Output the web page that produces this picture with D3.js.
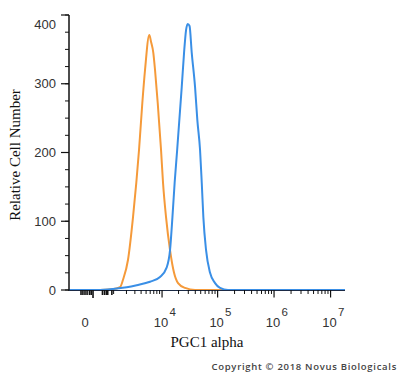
<!DOCTYPE html>
<html>
<head>
<meta charset="utf-8">
<script src="https://cdn.jsdelivr.net/npm/d3@7"></script>
<style>
  body { margin: 0; background: #fff; }
  svg { display: block; }
</style>
</head>
<body>
<svg id="chart" width="400" height="378"></svg>
<script>

// Isotype control (orange): [fluorescence, count]
const controlSeries = [
  [-416, 0], [381, 0], [908, 1], [1433, 4], [1678, 15], [2160, 44], [2750, 106],
  [3640, 204], [4226, 272], [4770, 320], [5770, 371], [6215, 361], [6870, 345],
  [7400, 320], [8310, 272], [9570, 204], [10420, 156], [11840, 106], [14010, 58],
  [16580, 25], [19600, 10], [26200, 3], [39640, 0], [1.8e7, 0]
];

// PGC1 alpha stained (blue)
const stainedSeries = [
  [-416, 0], [300, 0], [965, 1.5], [2025, 4], [3270, 7], [5950, 12], [9170, 19],
  [12190, 33], [14010, 58], [15500, 106], [17000, 156], [18900, 204], [22840, 295],
  [25150, 345], [27330, 378], [29300, 387], [31570, 384], [34570, 345], [39640, 295],
  [43540, 247], [48650, 204], [52200, 156], [55740, 106], [62290, 58], [73390, 25],
  [90060, 10], [110500, 3], [153000, 0], [1.8e7, 0]
];

const yTicks = [0, 100, 200, 300, 400];
const yMinorTicks = d3.range(0, 401, 25);
const xMajorTicks = [1e4, 1e5, 1e6, 1e7];
const xLinearTicks = [-80, -40, 0, 40, 90, 130, 175, 470, 550, 630, 690, 900];
const xMinorTicks = [3, 4, 5, 6].flatMap(e => d3.range(1, 10).map(k => k * Math.pow(10, e)))
  .filter(v => !xMajorTicks.includes(v) && v < 1.8e7);

const colors = { control: "#f59a3a", stained: "#3a8fe6" };

const svg = d3.select("#chart");

const x = d3.scaleSymlog()
  .constant(453)
  .domain([-416, 1.8e7])
  .range([69, 345]);

const y = d3.scaleLinear()
  .domain([0, 400])
  .range([290, 15]);

const line = d3.line()
  .x(d => x(d[0]))
  .y(d => y(d[1]))
  .curve(d3.curveMonotoneX);

// Curves
svg.append("path")
  .datum(controlSeries)
  .attr("fill", "none")
  .attr("stroke", colors.control)
  .attr("stroke-width", 2)
  .attr("d", line);

svg.append("path")
  .datum(stainedSeries)
  .attr("fill", "none")
  .attr("stroke", colors.stained)
  .attr("stroke-width", 2)
  .attr("d", line);

// Y axis
const yAxis = svg.append("g");

yAxis.append("line")
  .attr("x1", 69).attr("x2", 69)
  .attr("y1", y(400)).attr("y2", y(0) + 1)
  .attr("stroke", "#111")
  .attr("stroke-width", 1.5);

yAxis.selectAll(".ymin")
  .data(yMinorTicks)
  .join("line")
    .attr("x1", 65).attr("x2", 69)
    .attr("y1", d => y(d)).attr("y2", d => y(d))
    .attr("stroke", "#111");

yAxis.selectAll(".ymaj")
  .data(yTicks)
  .join("line")
    .attr("x1", 61).attr("x2", 69)
    .attr("y1", d => y(d)).attr("y2", d => y(d))
    .attr("stroke", "#111")
    .attr("stroke-width", 1.2);

yAxis.selectAll("text")
  .data(yTicks)
  .join("text")
    .attr("x", 56)
    .attr("y", d => y(d) + (d === 400 ? 9 : 0))
    .attr("dy", "0.35em")
    .attr("text-anchor", "end")
    .attr("font-family", "Liberation Sans, Arial, sans-serif")
    .attr("font-size", 13)
    .attr("fill", "#333")
    .text(d => d);

// X axis
const xAxis = svg.append("g");

xAxis.append("line")
  .attr("x1", 69).attr("x2", 345)
  .attr("y1", 290.5).attr("y2", 290.5)
  .attr("stroke", "#1b2a45")
  .attr("stroke-width", 1.2);

xAxis.selectAll(".xlin")
  .data(xLinearTicks)
  .join("line")
    .attr("x1", d => x(d)).attr("x2", d => x(d))
    .attr("y1", 290).attr("y2", d => d === 175 ? 298 : 295)
    .attr("stroke", "#111")
    .attr("stroke-width", 1.6);

xAxis.selectAll(".xmin")
  .data(xMinorTicks)
  .join("line")
    .attr("x1", d => x(d)).attr("x2", d => x(d))
    .attr("y1", 290).attr("y2", 294)
    .attr("stroke", "#111");

xAxis.selectAll(".xmaj")
  .data(xMajorTicks)
  .join("line")
    .attr("x1", d => x(d)).attr("x2", d => x(d))
    .attr("y1", 290).attr("y2", 297.5)
    .attr("stroke", "#111")
    .attr("stroke-width", 1.2);

xAxis.append("text")
  .attr("x", x(0))
  .attr("y", 327)
  .attr("text-anchor", "middle")
  .attr("font-family", "Liberation Sans, Arial, sans-serif")
  .attr("font-size", 13)
  .attr("fill", "#333")
  .text("0");

const majorLabels = xAxis.selectAll(".xlab")
  .data(xMajorTicks)
  .join("g");

majorLabels.append("text")
  .attr("x", d => x(d) - 1)
  .attr("y", 327)
  .attr("text-anchor", "middle")
  .attr("font-family", "Liberation Sans, Arial, sans-serif")
  .attr("font-size", 13)
  .attr("fill", "#333")
  .text("10");

majorLabels.append("text")
  .attr("x", d => x(d) + 7.5)
  .attr("y", 316)
  .attr("font-family", "Liberation Sans, Arial, sans-serif")
  .attr("font-size", 11.5)
  .attr("fill", "#333")
  .text(d => Math.round(Math.log10(d)));

// Titles
svg.append("text")
  .attr("transform", "translate(20,155) rotate(-90)")
  .attr("text-anchor", "middle")
  .attr("font-family", "Liberation Serif, Times New Roman, serif")
  .attr("font-size", 15)
  .attr("fill", "#111")
  .text("Relative Cell Number");

svg.append("text")
  .attr("x", 207)
  .attr("y", 347)
  .attr("text-anchor", "middle")
  .attr("font-family", "Liberation Serif, Times New Roman, serif")
  .attr("font-size", 15)
  .attr("fill", "#111")
  .text("PGC1 alpha");

svg.append("text")
  .attr("x", 397)
  .attr("y", 370)
  .attr("text-anchor", "end")
  .attr("font-family", "Open Sans, sans-serif")
  .attr("font-size", 9.5)
  .attr("font-weight", 600)
  .attr("letter-spacing", 0.7)
  .attr("fill", "#444")
  .text("Copyright © 2018 Novus Biologicals");

</script>
</body>
</html>
